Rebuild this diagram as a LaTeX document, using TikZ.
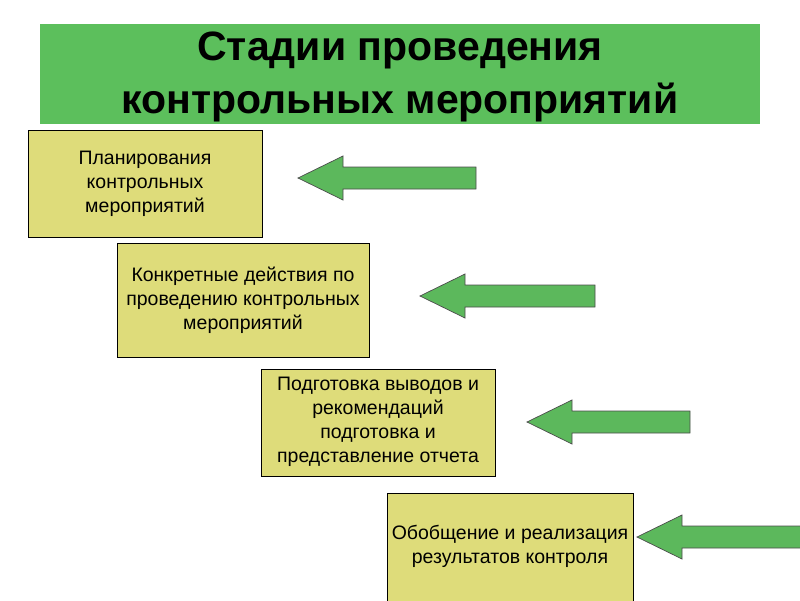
\documentclass[tikz,border=0pt]{standalone}
\usepackage{fontspec}
\setmainfont{Liberation Sans}
\definecolor{titlegreen}{HTML}{5CBF5C}
\definecolor{boxfill}{HTML}{DEDC7A}
\definecolor{arrowgreen}{HTML}{5CB85C}
\begin{document}
\begin{tikzpicture}[x=1pt,y=-1pt,
  stagebox/.style={draw=black,fill=boxfill,line width=0.7pt,align=center,font=\fontsize{19.5}{24}\selectfont},
  greenarrow/.style={draw=black!70,fill=arrowgreen,line width=0.7pt}]
\useasboundingbox (0,0) rectangle (800,600);
\fill[titlegreen] (40,24) rectangle (760,124);
\node[font=\fontsize{41}{53}\selectfont\bfseries,align=center] (title) at (400,77) {Стадии проведения\\контрольных мероприятий};
\filldraw[stagebox] (28,130) rectangle (262,237);
\node[stagebox,draw=none,fill=none] (b1) at (145,184) {Планирования\\контрольных\\мероприятий};
\filldraw[stagebox] (117,243) rectangle (369,357);
\node[stagebox,draw=none,fill=none] (b2) at (243,300) {Конкретные действия по\\проведению контрольных\\мероприятий};
\filldraw[stagebox] (261,369) rectangle (495,476);
\node[stagebox,draw=none,fill=none] (b3) at (378,422) {Подготовка выводов и\\рекомендаций\\подготовка и\\представление отчета};
\filldraw[stagebox] (387,493) rectangle (633,605);
\node[stagebox,draw=none,fill=none] (b4) at (510,546) {Обобщение и реализация\\результатов контроля};
\foreach \tx/\ty/\ex in {298/178/476, 420/296/595, 527/422/690, 637/537/801}{
  \filldraw[greenarrow] (\tx,\ty) -- (\tx+45,\ty-22) -- (\tx+45,\ty-11) -- (\ex,\ty-11) -- (\ex,\ty+11) -- (\tx+45,\ty+11) -- (\tx+45,\ty+22) -- cycle;
}
\end{tikzpicture}
\end{document}
